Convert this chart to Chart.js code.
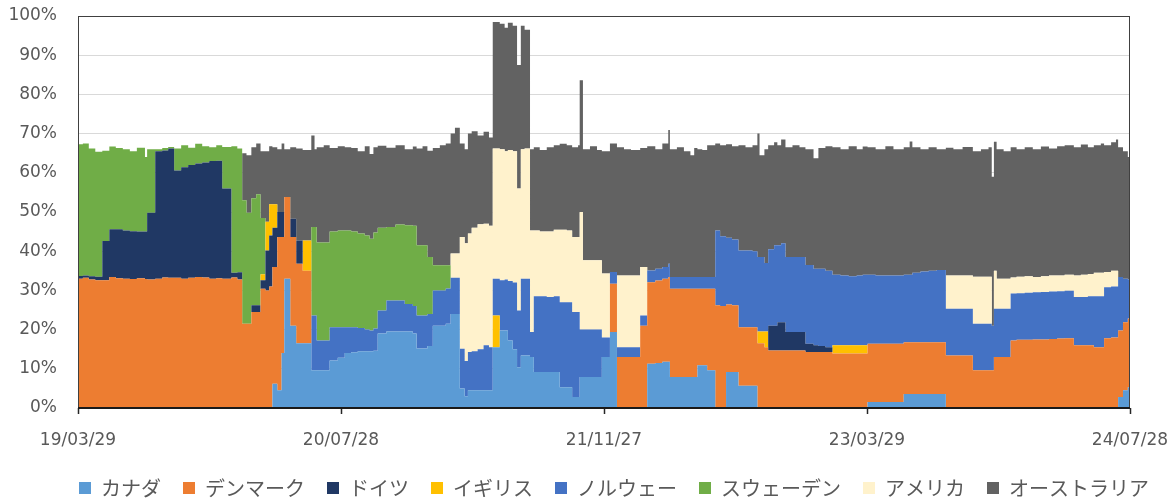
<!DOCTYPE html>
<html>
<head>
<meta charset="utf-8">
<script src="https://cdn.jsdelivr.net/npm/chart.js@4.4.1/dist/chart.umd.min.js"></script>
<style>
  html, body { margin: 0; padding: 0; background: #ffffff; overflow: hidden; }
  #wrap { width: 1176px; height: 500px; }
</style>
</head>
<body>
<div id="wrap"><canvas id="chart" width="1176" height="500"></canvas></div>
<script>
// Day offsets are counted from 2019-03-29; tick labels every 487 days.
const startDateUTC = Date.UTC(2019, 2, 29);
const tickStepDays = 487;
const lastDay = 1948;

const seriesNames = ['カナダ', 'デンマーク', 'ドイツ', 'イギリス', 'ノルウェー', 'スウェーデン', 'アメリカ', 'オーストラリア'];

// Share (%) of each country; each value holds from its day until the next day in the list.
const days = [
  0,9,20,32,45,58,70,83,96,109,124,128,143,156,167,178,191,204,217,230,243,256,267,284,295,
  304,312,321,330,338,347,354,360,369,377,382,393,404,416,432,438,442,455,466,481,
  494,506,518,531,540,547,555,571,588,605,620,627,638,647,657,670,681,690,698,707,716,722,729,740,751,761,
  768,781,790,796,805,813,820,827,837,844,855,868,881,892,905,915,926,929,935,948,961,970,
  985,998,1011,1024,1041,1054,1069,1082,1093,1096,1109,1122,1134,1141,1147,1156,1165,1180,1189,1200,1211,1223,1236,1249,
  1258,1262,1271,1278,1289,1295,1302,1310,1323,1336,1347,1362,1371,1384,1397,1412,1427,1442,1453,1462,1477,1495,1510,1529,1540,1545,1560,1575,1590,
  1607,1621,1638,1657,1672,1686,1692,1696,1701,1714,1727,1738,1753,1768,1783,1798,1813,1827,1844,1857,1870,1881,1894,1900,1913,1922,1926,1935,1944,1948
];

const canada = [
  0,0,0,0,0,0,0,0,0,0,0,0,0,0,0,0,0,0,0,0,0,0,0,0,0,
  0,0,0,0,0,0,0,6.2,4.5,14.0,33.0,21.0,16.5,16.5,9.6,9.6,9.6,9.6,12.1,12.8,
  14.0,14.2,14.5,14.5,14.5,14.6,19.0,19.5,19.5,19.5,19.0,15.2,15.2,15.8,21.0,21.0,21.5,24.0,24.0,5.0,3.0,4.5,4.5,4.5,4.5,4.5,
  15.5,19.8,19.8,17.2,15.0,10.4,13.4,13.4,13.0,9.2,9.2,9.2,9.2,5.3,5.3,2.8,2.8,7.9,7.9,7.9,7.9,13.0,
  19.4,0,0,0,0,11.3,11.5,11.8,11.8,7.9,7.9,7.9,7.9,7.9,10.9,10.9,9.6,0,0,9.2,9.2,5.7,5.7,5.7,
  0,0,0,0,0,0,0,0,0,0,0,0,0,0,0,0,0,0,0,1.5,1.5,1.5,1.5,3.6,3.6,3.6,3.6,3.6,3.6,
  0,0,0,0,0,0,0,0,0,0,0,0,0,0,0,0,0,0,0,0,0,0,0,0,0,0,2.8,4.5,5.3,5.3
];

const denmark = [
  33.0,33.2,32.8,32.6,32.6,33.4,33.1,33.0,32.9,33.1,32.9,32.8,33.0,33.3,33.2,33.2,33.0,33.2,33.4,33.3,33.0,33.1,33.0,33.3,32.8,
  21.5,21.5,24.5,24.5,30.4,30.0,31.0,29.8,39.1,29.6,20.8,22.6,20.3,18.5,0,0,0,0,0,0,
  0,0,0,0,0,0,0,0,0,0,0,0,0,0,0,0,0,0,0,0,0,0,0,0,0,0,
  0,0,0,0,0,0,0,0,0,0,0,0,0,0,0,0,0,0,0,0,0,0,
  12.3,13.0,13.0,13.0,21.0,20.8,21.0,21.2,21.6,22.5,22.5,22.5,22.5,22.5,19.5,19.5,20.8,26.2,26.0,17.2,17.0,14.9,14.9,14.9,
  16.5,16.5,15.5,14.7,14.7,14.7,14.7,14.7,14.7,14.7,14.3,14.3,14.3,14.3,13.9,13.9,13.9,13.9,13.9,14.9,14.9,14.9,14.9,13.2,13.2,13.2,13.2,13.2,13.2,
  13.4,13.4,13.4,9.6,9.6,9.6,9.6,13.0,13.0,13.0,17.2,17.4,17.4,17.5,17.5,17.6,17.7,17.8,16.0,16.0,16.0,15.5,15.5,17.8,18.0,18.0,17.0,17.4,17.5,17.5
];

const germany = [
  0.7,0.6,0.8,0.9,10.0,12.2,12.5,12.3,12.2,11.9,12.1,17.0,32.5,32.4,33.0,27.4,28.4,28.8,29.0,29.3,30.0,30.0,23.0,1.2,1.8,
  0,0,1.7,1.7,2.2,10.2,13.0,10.0,6.4,6.4,0,4.7,5.9,0,0,0,0,0,0,0,
  0,0,0,0,0,0,0,0,0,0,0,0,0,0,0,0,0,0,0,0,0,0,0,0,0,0,
  0,0,0,0,0,0,0,0,0,0,0,0,0,0,0,0,0,0,0,0,0,0,
  0,0,0,0,0,0,0,0,0,0,0,0,0,0,0,0,0,0,0,0,0,0,0,0,
  0,0,0,6.3,6.3,7.2,7.2,4.7,4.7,4.7,2.1,1.7,1.5,1.2,0,0,0,0,0,0,0,0,0,0,0,0,0,0,0,
  0,0,0,0,0,0,0,0,0,0,0,0,0,0,0,0,0,0,0,0,0,0,0,0,0,0,0,0,0,0
];

const uk = [
  0,0,0,0,0,0,0,0,0,0,0,0,0,0,0,0,0,0,0,0,0,0,0,0,0,
  0,0,0,0,1.5,7.3,8.0,6.0,0,0,0,0,0,7.7,0,0,0,0,0,0,
  0,0,0,0,0,0,0,0,0,0,0,0,0,0,0,0,0,0,0,0,0,0,0,0,0,0,
  8.1,0,0,0,0,0,0,0,0,0,0,0,0,0,0,0,0,0,0,0,0,0,
  0,0,0,0,0,0,0,0,0,0,0,0,0,0,0,0,0,0,0,0,0,0,0,0,
  3.0,3.0,4.0,0,0,0,0,0,0,0,0,0,0,0,2.1,2.1,2.1,2.1,2.1,0,0,0,0,0,0,0,0,0,0,
  0,0,0,0,0,0,0,0,0,0,0,0,0,0,0,0,0,0,0,0,0,0,0,0,0,0,0,0,0,0
];

const norway = [
  0,0,0,0,0,0,0,0,0,0,0,0,0,0,0,0,0,0,0,0,0,0,0,0,0,
  0,0,0,0,0,0,0,0,0,0,0,0,0,0,14.0,14.0,7.6,7.6,8.5,7.8,
  6.6,6.4,5.9,5.5,5.3,5.7,5.9,7.9,7.9,7.0,7.0,8.4,8.4,8.2,9.0,9.0,9.0,9.2,9.2,10.1,9.0,9.8,10.0,10.5,11.5,11.0,
  9.4,12.8,13.0,15.2,17.0,14.5,19.6,19.6,6.4,19.3,19.3,19.1,19.3,21.7,21.7,21.7,21.7,12.1,12.1,12.1,12.1,5.0,
  3.0,2.5,2.5,2.5,2.6,3.0,3.0,3.0,3.4,3.0,3.0,3.0,3.0,3.0,3.0,3.0,3.0,19.1,17.8,17.0,16.8,19.6,19.6,19.4,
  19.0,19.0,17.5,19.5,20.5,19.6,20.1,19.1,19.1,19.1,20.1,19.5,19.7,19.5,18.0,17.8,17.6,17.8,18.0,17.6,17.4,17.4,17.4,17.2,17.2,17.7,18.0,18.2,18.4,
  11.9,11.9,11.9,11.9,11.9,11.9,11.4,12.3,12.3,12.3,12.0,11.9,12.0,12.0,12.1,12.1,12.1,12.1,12.3,12.3,12.5,13.0,13.0,13.0,13.0,13.0,13.6,11.1,10.0,10.0
];

const sweden = [
  33.6,33.7,32.6,31.9,23.0,21.1,20.7,20.7,20.4,21.4,19.0,16.2,0.5,0.6,0.4,5.6,5.6,4.4,5.0,4.2,3.5,3.9,10.6,32.3,31.6,
  31.5,28.3,27.3,28.3,14.4,0,0,0,0,0,0,0,0,0,22.6,22.6,25.0,25.0,24.4,24.7,
  24.7,24.4,24.1,24.0,23.4,24.5,21.1,18.8,19.4,20.1,20.5,17.9,17.9,14.5,6.4,6.4,5.9,0,0,0,0,0,0,0,0,0,
  0,0,0,0,0,0,0,0,0,0,0,0,0,0,0,0,0,0,0,0,0,0,
  0,0,0,0,0,0,0,0,0,0,0,0,0,0,0,0,0,0,0,0,0,0,0,0,
  0,0,0,0,0,0,0,0,0,0,0,0,0,0,0,0,0,0,0,0,0,0,0,0,0,0,0,0,0,
  0,0,0,0,0,0,0,0,0,0,0,0,0,0,0,0,0,0,0,0,0,0,0,0,0,0,0,0,0,0
];

const usa = [
  0,0,0,0,0,0,0,0,0,0,0,0,0,0,0,0,0,0,0,0,0,0,0,0,0,
  0,0,0,0,0,0,0,0,0,0,0,0,0,0,0,0,0,0,0,0,
  0,0,0,0,0,0,0,0,0,0,0,0,0,0,0,0,0,6.2,6.2,28.5,30.0,30.2,31.5,31.9,31.0,31.0,
  33.2,33.4,32.7,33.4,33.5,31.1,33.0,33.2,25.9,16.8,16.5,16.7,17.0,18.5,18.3,19.1,19.1,30.0,17.7,17.7,17.7,16.3,
  0,18.3,18.3,18.3,12.4,0,0,0,0,0,0,0,0,0,0,0,0,0,0,0,0,0,0,0,
  0,0,0,0,0,0,0,0,0,0,0,0,0,0,0,0,0,0,0,0,0,0,0,0,0,0,0,0,0,
  8.5,8.5,8.5,12.0,12.0,12.0,0,9.7,7.7,7.7,4.1,4.2,4.2,3.9,4.0,4.1,4.0,4.1,5.5,5.7,5.7,6.0,6.0,3.9,4.0,4.0,0,0,0,0
];

const australia = [
  0,0,0,0,0,0,0,0,0,0,0,0,0,0,0,0,0,0,0,0,0,0,0,0,0,
  12.0,14.7,13.0,13.0,17.0,18.0,14.8,14.5,16.0,17.5,12.2,18.2,23.5,23.1,23.3,19.8,24.3,24.8,21.3,21.5,
  21.2,21.3,21.0,22.8,21.6,21.7,20.9,20.2,20.2,19.4,20.2,24.7,25.3,27.1,29.9,30.6,31.1,30.6,32.1,23.9,24.0,25.5,24.6,22.6,23.5,22.5,
  32.3,32.0,31.5,32.5,32.0,31.5,31.5,30.3,20.7,21.2,20.8,21.5,21.5,21.9,21.7,22.9,23.4,33.6,28.3,29.1,28.1,31.2,
  32.8,32.7,32.2,32.0,30.3,31.7,30.5,31.5,34.1,32.6,33.1,32.1,31.1,32.9,32.6,32.4,33.6,22.2,23.2,23.9,23.8,26.8,26.3,27.0,
  31.5,26.0,29.0,26.5,26.3,25.5,26.5,28.0,28.5,28.0,29.5,28.2,30.8,31.8,32.5,32.2,33.2,32.2,32.7,32.5,32.2,33.0,32.2,32.5,34.0,32.0,31.2,31.5,30.8,
  32.6,32.2,32.8,32.0,32.5,33.0,38.0,32.9,33.0,32.5,33.2,32.5,32.9,32.6,33.1,32.4,33.0,33.0,32.7,33.2,32.3,32.5,33.0,32.3,32.8,33.5,33.1,32.5,31.2,31.2
];

const yTickStep = 10;
const yMax = 100;

const seriesValues = [canada, denmark, germany, uk, norway, sweden, usa, australia];
const seriesColors = ['#5B9BD5', '#ED7D31', '#203864', '#FFC000', '#4472C4', '#70AD47', '#FFF2CC', '#626262'];

function dayLabel(offset) {
  const t = new Date(startDateUTC + offset * 86400000);
  const p = n => String(n).padStart(2, '0');
  return p(t.getUTCFullYear() % 100) + '/' + p(t.getUTCMonth() + 1) + '/' + p(t.getUTCDate());
}

const datasets = seriesNames.map((name, i) => ({
  label: name,
  data: days.map((d, j) => ({ x: d, y: seriesValues[i][j] })),
  backgroundColor: seriesColors[i],
  borderColor: 'rgba(0,0,0,0)',
  borderWidth: 0,
  pointRadius: 0,
  stepped: true,
  fill: i === 0 ? 'origin' : '-1'
}));

// Dark frame around the plotting area, with a heavier base line.
const plotFrame = {
  id: 'plotFrame',
  afterDatasetsDraw(chart) {
    const { ctx, chartArea: a } = chart;
    ctx.save();
    ctx.strokeStyle = '#404040';
    ctx.lineWidth = 1;
    ctx.strokeRect(a.left + 0.5, a.top + 0.5, a.width - 1, a.height - 1);
    ctx.strokeStyle = '#1a1a1a';
    ctx.lineWidth = 2;
    ctx.beginPath();
    ctx.moveTo(a.left, a.bottom);
    ctx.lineTo(a.right, a.bottom);
    ctx.stroke();
    ctx.restore();
  }
};

// Centre the legend row under the plotting area rather than the whole canvas.
const legendUnderPlot = {
  id: 'legendUnderPlot',
  afterLayout(chart) {
    const lg = chart.legend;
    if (lg) { lg.left += 52; }
  }
};

const tickFont = { family: 'DejaVu Sans', size: 17 };

new Chart(document.getElementById('chart'), {
  type: 'line',
  data: { datasets },
  plugins: [plotFrame, legendUnderPlot],
  options: {
    responsive: false,
    animation: false,
    devicePixelRatio: 1,
    layout: { padding: { left: 0, right: 0, top: 16, bottom: -8 } },
    elements: { line: { tension: 0 } },
    scales: {
      x: {
        type: 'linear',
        min: 0,
        max: lastDay,
        grid: { display: true, drawOnChartArea: false, drawTicks: true, tickLength: 6, tickColor: '#262626', tickWidth: 1.5 },
        border: { display: false },
        ticks: {
          stepSize: tickStepDays,
          autoSkip: false,
          maxRotation: 0,
          padding: 16,
          color: '#595959',
          font: tickFont,
          callback: v => dayLabel(v)
        },
        afterFit: axis => { axis.height = 48; axis.paddingRight = 46; }
      },
      y: {
        stacked: true,
        min: 0,
        max: yMax,
        grid: { color: '#D9D9D9', lineWidth: 1, drawTicks: true, tickLength: 21, tickColor: 'rgba(0,0,0,0)' },
        border: { display: false },
        ticks: {
          stepSize: yTickStep,
          padding: 0,
          color: '#595959',
          font: tickFont,
          callback: v => v + '%'
        },
        afterFit: axis => { axis.width = 78; }
      }
    },
    plugins: {
      tooltip: { enabled: false },
      legend: {
        position: 'bottom',
        labels: {
          boxWidth: 12,
          boxHeight: 12,
          padding: 22,
          color: '#595959',
          font: { family: 'Noto Sans CJK JP', size: 20 }
        }
      }
    }
  }
});
</script>
</body>
</html>
